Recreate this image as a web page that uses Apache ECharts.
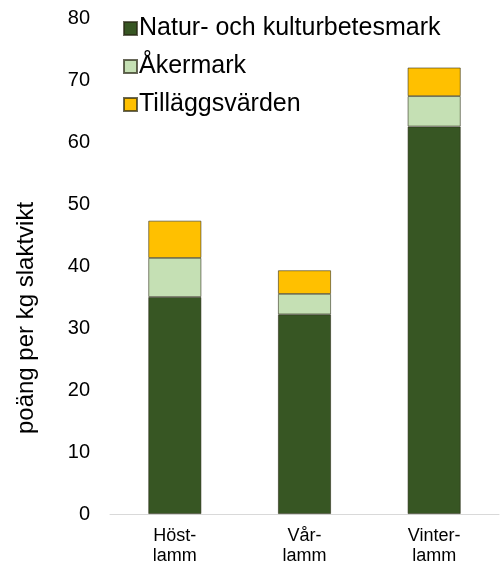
<!DOCTYPE html>
<html>
<head>
<meta charset="utf-8">
<script src="https://cdn.jsdelivr.net/npm/echarts@6/dist/echarts.min.js"></script>
<style>
  html, body { margin: 0; padding: 0; background: #fff; }
  #chart { width: 501px; height: 562px; }
</style>
</head>
<body>
<div id="chart"></div>
<script>
var categories = ['Höst-\nlamm', 'Vår-\nlamm', 'Vinter-\nlamm'];
var naturData = [35.0, 32.2, 62.5];
var akerData = [6.3, 3.3, 4.9];
var tillaggData = [6.0, 3.8, 4.6];
var yTicks = [0, 10, 20, 30, 40, 50, 60, 70, 80];

function drawChart() {
    let myChart = echarts.init(document.getElementById('chart'));

    let barBorder = {
        borderColor: 'rgba(40, 40, 20, 0.7)',
        borderWidth: 0.8
    };

    let option = {
        animation: false,
        textStyle: {
            fontFamily: 'Liberation Sans, Arial, sans-serif',
            color: '#000'
        },
        legend: {
            orient: 'vertical',
            left: 118,
            top: 11,
            itemWidth: 13,
            itemHeight: 13,
            itemGap: 13,
            icon: 'rect',
            textStyle: {
                fontSize: 25,
                lineHeight: 25,
                color: '#000',
                padding: [0, 0, 0, -3]
            },
            data: ['Natur- och kulturbetesmark', 'Åkermark', 'Tilläggsvärden']
        },
        grid: {
            left: 110,
            right: 2,
            top: 18,
            bottom: 48,
            containLabel: false,
            outerBoundsMode: 'none'
        },
        xAxis: {
            type: 'category',
            data: categories,
            axisLine: { lineStyle: { color: '#d9d9d9', width: 1 } },
            axisTick: { show: false },
            axisLabel: {
                fontSize: 18,
                lineHeight: 20,
                color: '#000',
                margin: 12
            }
        },
        yAxis: {
            type: 'value',
            min: 0,
            max: 80,
            interval: 10,
            name: 'poäng per kg slaktvikt',
            nameLocation: 'middle',
            nameGap: 72,
            nameTextStyle: {
                fontSize: 24,
                color: '#000',
                padding: [0, 104, 0, 0]
            },
            axisLine: { show: false },
            axisTick: { show: false },
            splitLine: { show: false },
            axisLabel: {
                fontSize: 20,
                color: '#000',
                margin: 20,
                formatter: function (val) {
                    return yTicks.indexOf(val) >= 0 ? String(val) : '';
                }
            }
        },
        series: [
            {
                name: 'Natur- och kulturbetesmark',
                type: 'bar',
                stack: 'total',
                barWidth: 53,
                data: naturData,
                itemStyle: Object.assign({ color: '#375623' }, barBorder)
            },
            {
                name: 'Åkermark',
                type: 'bar',
                stack: 'total',
                barWidth: 53,
                data: akerData,
                itemStyle: Object.assign({ color: '#c5e0b4' }, barBorder)
            },
            {
                name: 'Tilläggsvärden',
                type: 'bar',
                stack: 'total',
                barWidth: 53,
                data: tillaggData,
                itemStyle: Object.assign({ color: '#ffc000' }, barBorder)
            }
        ]
    };

    myChart.setOption(option);
}

drawChart();
</script>
</body>
</html>
